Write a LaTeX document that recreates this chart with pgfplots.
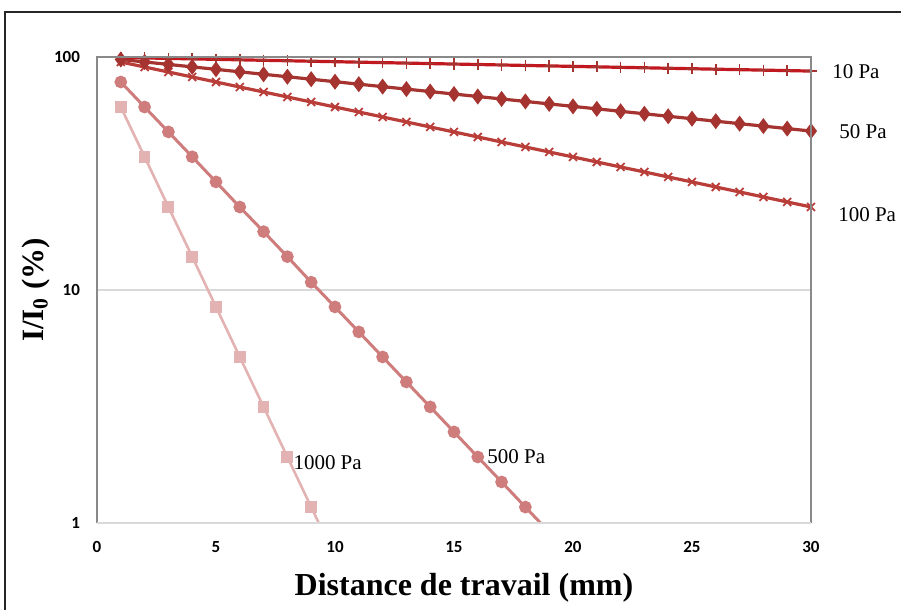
\documentclass[border=0pt]{standalone}
\usepackage{fontspec}
\setmainfont{Liberation Serif}
\newfontfamily\tickfont{Carlito}
\usepackage{pgfplots}
\pgfplotsset{compat=1.18}
\definecolor{c10}{RGB}{192,24,30}
\definecolor{c50}{RGB}{165,52,48}
\definecolor{c100}{RGB}{185,62,58}
\definecolor{c500}{RGB}{206,124,124}
\definecolor{c1000}{RGB}{227,178,178}
\definecolor{boxgray}{RGB}{137,137,137}
\definecolor{lightgray}{RGB}{217,217,217}
\begin{document}
\begin{tikzpicture}
\useasboundingbox (-48.5pt,-43.5pt) rectangle (402pt,261.5pt);
\draw[line width=1pt, black!85] (-46pt,-60pt) -- (-46pt,255.5pt) -- (420pt,255.5pt);
\begin{axis}[name=ax, at={(0,0)}, anchor=south west,
  scale only axis, width=357pt, height=233pt,
  xmin=0, xmax=30, ymin=1, ymax=100, ymode=log,
  xtick={0,5,...,30}, xticklabels={0,5,10,15,20,25,30},
  ytick={1,10,100}, yticklabels={1,10,100},
  major tick length=0pt, minor tick length=0pt,
  axis line style={draw=none},
  ymajorgrids, grid style={draw=lightgray, line width=0.8pt},
  tick label style={font=\tickfont\bfseries\fontsize{8.5}{10}\selectfont},
  /pgf/number format/assume math mode=true,
  xticklabel style={yshift=-5.5pt},
  yticklabel style={xshift=-5pt},
  xlabel={Distance de travail (mm)},
  ylabel={I/I\textsubscript{0} (\%)},
  xlabel style={font=\bfseries\fontsize{16}{18}\selectfont, at={(axis description cs:0.514,-0.1395)}, anchor=center},
  ylabel style={font=\bfseries\fontsize{15.5}{18}\selectfont, at={(axis description cs:-0.086,0.5)}, anchor=center},
]
\addplot[c1000, line width=1.3pt, mark=square*, mark size=2.3pt] coordinates {
(1,61.0) (2,37.3) (3,22.7) (4,13.9) (5,8.46) (6,5.16) (7,3.15) (8,1.92) (9,1.17) (10,0.714)};
\addplot[c500, line width=1.5pt, mark=*, mark size=2.4pt] coordinates {
(1,78.1) (2,61.0) (3,47.7) (4,37.3) (5,29.1) (6,22.7) (7,17.8) (8,13.9) (9,10.8) (10,8.46)
(11,6.61) (12,5.16) (13,4.03) (14,3.15) (15,2.46) (16,1.92) (17,1.50) (18,1.17) (19,0.914) (20,0.714)};
\addplot[c100, line width=1.6pt, mark=x, mark size=2.8pt, mark options={line width=0.9pt}] coordinates {
(1,95.18) (2,90.59) (3,86.23) (4,82.07) (5,78.12) (6,74.35) (7,70.77) (8,67.36) (9,64.11) (10,61.02)
(11,58.08) (12,55.28) (13,52.62) (14,50.08) (15,47.67) (16,45.37) (17,43.18) (18,41.10) (19,39.12) (20,37.24)
(21,35.44) (22,33.73) (23,32.11) (24,30.56) (25,29.09) (26,27.68) (27,26.35) (28,25.08) (29,23.87) (30,22.72)};
\addplot[c50, line width=1.6pt, mark=diamond*, mark size=2.7pt] coordinates {
(1,97.59) (2,95.24) (3,92.94) (4,90.70) (5,88.52) (6,86.38) (7,84.30) (8,82.27) (9,80.29) (10,78.35)
(11,76.46) (12,74.62) (13,72.82) (14,71.07) (15,69.35) (16,67.68) (17,66.05) (18,64.46) (19,62.91) (20,61.39)
(21,59.91) (22,58.47) (23,57.06) (24,55.68) (25,54.34) (26,53.03) (27,51.75) (28,50.51) (29,49.29) (30,48.10)};
\addplot[c10, line width=1.6pt, mark=+, mark size=2.8pt, mark options={line width=0.8pt, draw=c50}] coordinates {
(1,99.54) (2,99.08) (3,98.62) (4,98.16) (5,97.71) (6,97.25) (7,96.80) (8,96.36) (9,95.91) (10,95.47)
(11,95.02) (12,94.58) (13,94.15) (14,93.71) (15,93.28) (16,92.85) (17,92.42) (18,91.99) (19,91.57) (20,91.14)
(21,90.72) (22,90.30) (23,89.89) (24,89.47) (25,89.06) (26,88.65) (27,88.24) (28,87.83) (29,87.43) (30,87.03)};
\coordinate (l10) at (axis cs:30.88,86.6);
\coordinate (l50) at (axis cs:31.18,47.8);
\coordinate (l100) at (axis cs:31.13,21.0);
\coordinate (l1000) at (axis cs:8.24,1.81);
\coordinate (l500) at (axis cs:16.39,1.92);
\end{axis}
\draw[boxgray, line width=0.8pt] (ax.south west) -- (ax.north west) -- (ax.north east) -- (ax.south east);
\draw[lightgray, line width=0.8pt] (ax.south west) -- (ax.south east);
\begin{scope}[every node/.style={anchor=west, inner sep=0pt, font=\fontsize{10.5}{12}\selectfont}]
\node at (l10) {10 Pa};
\node at (l50) {50 Pa};
\node at (l100) {100 Pa};
\node at (l1000) {1000 Pa};
\node at (l500) {500 Pa};
\end{scope}
\end{tikzpicture}
\end{document}
